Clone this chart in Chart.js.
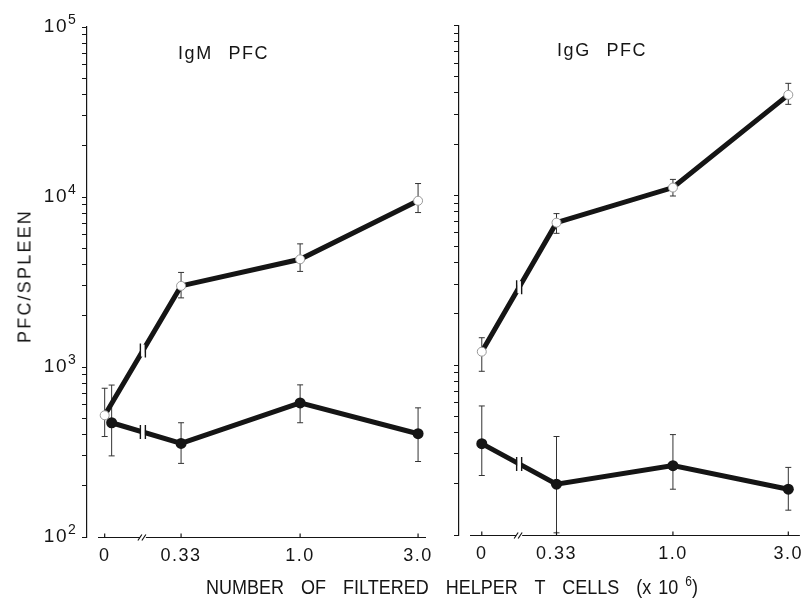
<!DOCTYPE html>
<html>
<head>
<meta charset="utf-8">
<script src="https://cdn.jsdelivr.net/npm/chart.js@4/dist/chart.umd.min.js"></script>
<style>
  body { margin: 0; background: #fff; width: 809px; height: 600px; position: relative; overflow: hidden;
         font-family: "Liberation Sans", Arial, sans-serif; color: #151515; }
  canvas { position: absolute; top: 0; }
  #left { left: 0; }
  #right { left: 420px; }
  .t { position: absolute; white-space: nowrap; }
  .panel { font-size: 18px; word-spacing: 9px; letter-spacing: 1.6px; }
  #ytitle { left: 25px; top: 276px; font-size: 18px; letter-spacing: 2.2px;
            transform: translate(-50%, -50%) rotate(-90deg); }
  #xtitle { left: 452px; top: 575px; font-size: 18px; word-spacing: 12px;
            transform: translateX(-50%) scaleY(1.15); }
  #xtitle sup { font-size: 12px; }
</style>
</head>
<body>
<canvas id="left" width="440" height="600"></canvas>
<canvas id="right" width="389" height="600"></canvas>
<div class="t panel" style="left:178px;top:43px">IgM PFC</div>
<div class="t panel" style="left:557px;top:40px">IgG PFC</div>
<div class="t" id="ytitle">PFC/SPLEEN</div>
<div class="t" id="xtitle">NUMBER OF FILTERED HELPER T CELLS <span style="word-spacing:2px">(x 10 <sup>6</sup>)</span></div>
<script>
// helper T cells added (x 10^6); 0 sits on a broken axis
const xValues = [0, 0.33, 1.0, 3.0];
const xTickLabels = ['0', '0.33', '1.0', '3.0'];
const yTickLabels = ['10', '10', '10', '10'];
const yTickExponents = ['2', '3', '4', '5'];

// IgM PFC panel
const igmOpen = [520, 3000, 4300, 9500];
const igmOpenLow = [390, 2550, 3650, 8100];
const igmOpenHigh = [750, 3600, 5300, 12000];
const igmFilled = [470, 355, 615, 405];
const igmFilledLow = [300, 271, 470, 278];
const igmFilledHigh = [783, 470, 785, 575];

// IgG PFC panel
const iggOpen = [1200, 6900, 11100, 39000];
const iggOpenLow = [920, 5970, 9900, 34300];
const iggOpenHigh = [1450, 7800, 12400, 45600];
const iggFilled = [345, 199, 256, 186];
const iggFilledLow = [224, 103, 186, 140];
const iggFilledHigh = [575, 380, 390, 250];

const ZERO_AT = 0.162;                      // where "0" is drawn on the log axis
const BREAK_AT = Math.sqrt(ZERO_AT * 0.33); // axis break between 0 and 0.33
const INK = '#151515';
const FONT = 'Liberation Sans, Arial, sans-serif';

function xPos(x, dodge) {
	return x === 0 ? ZERO_AT * dodge : x;
}

function points(vals, dodge) {
	return xValues.map((x, i) => ({ x: xPos(x, dodge), y: vals[i] }));
}

function yTicks() {
	const t = [];
	for (let d = 2; d < 5; d++) {
		for (let m = 1; m < 10; m++) t.push({ value: m * Math.pow(10, d) });
	}
	t.push({ value: 100000 });
	return t;
}

function powerIndex(v) {
	const p = Math.round(Math.log10(v));
	return Math.abs(v - Math.pow(10, p)) < 1e-6 ? p - 2 : -1;
}

const extras = {
	id: 'extras',
	beforeDraw(chart) {
		chart.ctx.letterSpacing = '1.5px';
	},
	beforeDatasetsDraw(chart) {
		const ctx = chart.ctx;
		const y = chart.scales.y;
		ctx.save();
		ctx.strokeStyle = '#333';
		ctx.lineWidth = 1;
		chart.data.datasets.forEach((ds, di) => {
			const meta = chart.getDatasetMeta(di);
			meta.data.forEach((pt, i) => {
				const yl = y.getPixelForValue(ds.errLow[i]);
				const yh = y.getPixelForValue(ds.errHigh[i]);
				ctx.beginPath();
				ctx.moveTo(pt.x, yl); ctx.lineTo(pt.x, yh);
				ctx.moveTo(pt.x - 3, yl); ctx.lineTo(pt.x + 3, yl);
				ctx.moveTo(pt.x - 3, yh); ctx.lineTo(pt.x + 3, yh);
				ctx.stroke();
			});
		});
		ctx.restore();
	},
	afterDatasetsDraw(chart) {
		const ctx = chart.ctx;
		const bx = chart.scales.x.getPixelForValue(BREAK_AT);
		ctx.save();
		chart.data.datasets.forEach((ds, di) => {
			const meta = chart.getDatasetMeta(di);
			const p0 = meta.data[0], p1 = meta.data[1];
			const by = p0.y + (bx - p0.x) / (p1.x - p0.x) * (p1.y - p0.y);
			ctx.fillStyle = '#fff';
			ctx.fillRect(bx - 2, by - 6, 4, 12);
			ctx.strokeStyle = INK;
			ctx.lineWidth = 1.4;
			ctx.beginPath();
			ctx.moveTo(bx - 2.5, by - 7); ctx.lineTo(bx - 2.5, by + 7);
			ctx.moveTo(bx + 2.5, by - 7); ctx.lineTo(bx + 2.5, by + 7);
			ctx.stroke();
		});
		ctx.restore();
	},
	afterDraw(chart) {
		// x axis line with its break and small upward ticks
		const ctx = chart.ctx;
		const xs = chart.scales.x;
		const ys = chart.scales.y;
		const area = chart.chartArea;
		const ay = area.bottom + 0.5;
		const bx = xs.getPixelForValue(BREAK_AT);
		ctx.save();
		ctx.strokeStyle = INK;
		ctx.lineWidth = 1.2;
		ctx.beginPath();
		ctx.moveTo(area.left + 11, ay); ctx.lineTo(bx - 3, ay);
		ctx.moveTo(bx + 3, ay); ctx.lineTo(area.right, ay);
		ctx.moveTo(bx - 5, ay + 3); ctx.lineTo(bx - 1, ay - 3);
		ctx.moveTo(bx - 1, ay + 3); ctx.lineTo(bx + 3, ay - 3);
		xValues.forEach(v => {
			const px = xs.getPixelForValue(xPos(v, 1));
			ctx.moveTo(px, ay); ctx.lineTo(px, ay - 4);
		});
		ctx.stroke();
		// exponents next to the "10" tick labels
		if (ys.options.ticks.callback(1000) !== '') {
			ctx.letterSpacing = '0px';
			ctx.fillStyle = INK;
			ctx.font = '14px ' + FONT;
			ctx.textAlign = 'left';
			ctx.textBaseline = 'alphabetic';
			ys.ticks.forEach(t => {
				const k = powerIndex(t.value);
				if (k < 0) return;
				ctx.fillText(yTickExponents[k], 68, ys.getPixelForValue(t.value) - 3);
			});
		}
		ctx.restore();
	}
};

function makeChart(id, cfg) {
	const openData = cfg.open, filledData = cfg.filled;
	return new Chart(document.getElementById(id), {
		type: 'line',
		data: {
			datasets: [
				{
					data: points(openData.vals, 1),
					errLow: openData.low, errHigh: openData.high,
					borderColor: INK, borderWidth: 5,
					pointRadius: 4.5, pointBackgroundColor: '#fff',
					pointBorderColor: '#999', pointBorderWidth: 1,
				},
				{
					data: points(filledData.vals, cfg.dodge),
					errLow: filledData.low, errHigh: filledData.high,
					borderColor: INK, borderWidth: 5,
					pointRadius: 5.5, pointBackgroundColor: INK,
					pointBorderColor: INK, pointBorderWidth: 0,
				},
			],
		},
		options: {
			responsive: false,
			animation: false,
			devicePixelRatio: 1,
			layout: { padding: cfg.padding },
			plugins: { legend: { display: false }, tooltip: { enabled: false } },
			scales: {
				x: {
					type: 'logarithmic',
					bounds: 'data',
					min: cfg.xMin, max: cfg.xMax,
					afterBuildTicks: s => { s.ticks = xValues.map(v => ({ value: xPos(v, 1) })); },
					afterFit: s => { s.height = cfg.xHeight; },
					grid: { display: false, drawTicks: false },
					border: { display: false },
					ticks: {
						autoSkip: false, maxRotation: 0, padding: 8, color: INK,
						font: { family: FONT, size: 18 },
						callback: (v, i) => xTickLabels[i],
					},
				},
				y: {
					type: 'logarithmic',
					bounds: 'data',
					min: 100, max: 100000,
					afterBuildTicks: s => { s.ticks = yTicks(); },
					afterFit: s => { s.width = cfg.yWidth; },
					grid: { drawOnChartArea: false, tickLength: 5, color: INK, tickWidth: 1 },
					border: { color: INK, width: 1.2 },
					ticks: {
						autoSkip: false, padding: 14, color: INK,
						font: { family: FONT, size: 19 },
						callback: v => {
							if (!cfg.yLabels) return '';
							const k = powerIndex(v);
							return k >= 0 ? yTickLabels[k] : '';
						},
					},
				},
			},
		},
		plugins: [extras],
	});
}

makeChart('left', {
	open: { vals: igmOpen, low: igmOpenLow, high: igmOpenHigh },
	filled: { vals: igmFilled, low: igmFilledLow, high: igmFilledHigh },
	dodge: 1.067,
	padding: { left: 0, right: 14, top: 27, bottom: 0 },
	xMin: 0.1374, xMax: 3.23, xHeight: 63, yWidth: 87, yLabels: true,
});

makeChart('right', {
	open: { vals: iggOpen, low: iggOpenLow, high: iggOpenHigh },
	filled: { vals: iggFilled, low: iggFilledLow, high: iggFilledHigh },
	dodge: 1,
	padding: { left: 0, right: 1, top: 22, bottom: 0 },
	xMin: 0.1304, xMax: 3.35, xHeight: 65, yWidth: 39, yLabels: false,
});
</script>
</body>
</html>
